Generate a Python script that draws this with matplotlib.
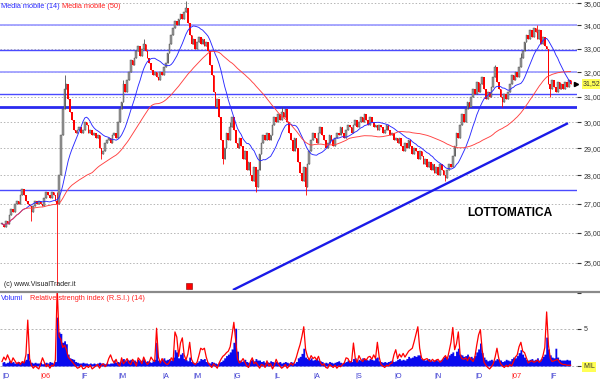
import numpy as np
import pandas as pd
import matplotlib
matplotlib.use("Agg")
import matplotlib.pyplot as plt
from matplotlib.ticker import NullLocator
from matplotlib.lines import Line2D
from matplotlib.transforms import blended_transform_factory

plt.rcParams['font.family'] = ['Liberation Sans', 'DejaVu Sans']

# ---------------- data ----------------
close = [
    26.3, 26.2, 26.4, 26.3, 26.6, 26.8, 26.7, 27.0, 27.1, 27.0,
    27.3, 27.5, 27.3, 27.1, 27.0, 26.9, 26.7, 26.9, 27.1, 27.0,
    27.1, 27.0, 26.9, 27.2, 27.4, 27.3, 27.2, 27.4, 27.3, 27.1,
    27.0, 28.0, 29.5, 30.5, 31.3, 31.5, 30.9, 30.4, 30.1, 29.7,
    29.6, 29.7, 29.8, 29.6, 29.7, 30.0, 29.9, 29.6, 29.7, 29.5,
    29.6, 29.4, 29.5, 29.0, 28.8, 28.9, 29.2, 29.3, 29.4, 29.2,
    29.5, 29.6, 29.4, 30.0, 30.5, 30.8, 31.5, 31.2, 31.7, 32.0,
    32.5, 32.3, 32.6, 32.9, 33.1, 32.7, 33.0, 33.2, 32.9, 32.6,
    32.4, 32.1, 31.9, 32.0, 31.8, 31.7, 32.0, 31.9, 32.2, 32.4,
    32.8, 33.2, 33.6, 33.9, 34.2, 34.0, 34.3, 34.5, 34.3, 34.6,
    34.8, 34.1, 33.6, 33.2, 33.4, 33.0, 33.3, 33.5, 33.2, 33.4,
    33.1, 33.3, 32.9, 32.3, 31.9, 31.2, 30.6, 30.9, 30.2, 29.3,
    28.6, 29.0, 29.6, 29.3, 29.8, 30.2, 29.7, 29.2, 29.0, 29.4,
    29.1, 28.6, 28.9, 28.2, 28.5, 28.0, 27.8, 28.3, 27.6, 28.2,
    28.8, 29.2, 29.5, 29.3, 29.6, 29.3, 29.5, 29.9, 30.2, 30.0,
    30.3, 30.1, 30.4, 30.2, 30.5, 30.0, 29.6, 29.3, 28.9, 29.4,
    29.0, 28.5, 28.1, 27.8, 28.3, 27.6, 28.4, 28.9, 29.3, 29.6,
    29.4, 29.2, 29.6, 29.8, 29.5, 29.3, 29.0, 29.2, 29.5, 29.3,
    29.1, 29.4, 29.6, 29.5, 29.8, 29.6, 29.4, 29.7, 29.9, 29.8,
    29.6, 29.9, 30.1, 29.8, 30.0, 30.2, 30.0, 30.3, 30.1, 29.9,
    30.2, 30.0, 29.8, 29.9, 29.7, 29.9, 29.8, 29.6, 29.7, 29.9,
    29.7, 29.5, 29.6, 29.3, 29.4, 29.2, 29.4, 29.1, 28.9, 29.2,
    29.0, 29.3, 29.1, 28.8, 29.0, 28.9, 28.6, 28.9, 28.7, 28.4,
    28.6, 28.3, 28.5, 28.2, 28.4, 28.1, 28.3, 28.0, 28.4, 28.2,
    28.0, 27.9, 28.2, 28.4, 28.3, 28.7, 29.1, 29.6, 29.4, 29.9,
    30.3, 30.0, 30.5, 30.8, 30.6, 31.0, 31.3, 31.1, 31.6, 31.2,
    31.5, 31.8, 31.3, 30.9, 31.2, 31.0, 31.4, 31.8, 32.2, 31.6,
    31.3, 31.0, 30.8, 31.1, 30.9, 31.2, 31.5, 31.9, 31.7, 32.0,
    31.8, 32.2, 32.6, 32.9, 33.3, 33.6, 33.4, 33.8, 33.5, 33.9,
    33.7, 33.4, 33.8, 33.2, 33.5, 33.1, 33.0, 31.5, 31.3, 31.7,
    31.4, 31.2, 31.6, 31.3, 31.5, 31.3, 31.6, 31.4, 31.7, 31.52,
]

# notable wicks (index: price)
wick_high = {30: 27.4, 34: 31.9, 66: 31.7, 77: 33.4, 100: 35.1, 124: 30.0,
             152: 30.6, 268: 32.3, 282: 32.8, 291: 34.0}
wick_low = {16: 26.4, 30: 24.3, 54: 28.6, 120: 28.4, 138: 27.4,
            165: 27.3, 241: 27.8, 272: 30.6, 298: 31.0}

volume = [
    0.5, 0.6, 0.4, 0.5, 0.7, 0.5, 0.6, 0.4, 0.5, 0.6,
    0.5, 0.6, 0.7, 0.9, 1.7, 0.8, 0.5, 0.4, 0.5, 0.4,
    0.4, 0.5, 0.3, 0.4, 0.5, 0.4, 0.6, 0.5, 0.4, 0.6,
    6.6, 4.6, 4.4, 3.2, 3.4, 3.0, 1.6, 1.1, 1.0, 0.9,
    0.6, 0.5, 0.4, 0.4, 0.5, 0.4, 0.4, 0.3, 0.4, 0.3,
    0.4, 0.3, 0.4, 0.5, 0.4, 0.4, 0.3, 0.4, 0.3, 0.4,
    0.4, 0.8, 0.5, 0.6, 0.5, 0.8, 1.0, 0.7, 0.9, 0.8,
    0.9, 0.7, 0.8, 0.6, 0.9, 0.7, 0.8, 1.0, 0.6, 0.7,
    0.6, 0.5, 0.7, 0.9, 3.2, 0.8, 0.7, 0.9, 1.1, 0.8,
    0.9, 1.0, 0.8, 1.2, 2.2, 1.9, 1.1, 1.6, 1.8, 1.0,
    0.9, 0.7, 1.2, 0.6, 0.5, 0.4, 0.5, 0.7, 1.0, 0.9,
    1.0, 0.6, 0.5, 0.4, 0.6, 0.5, 0.4, 0.3, 0.5, 0.6,
    0.8, 1.1, 1.4, 1.6, 1.9, 2.3, 3.2, 5.1, 2.0, 0.8,
    0.6, 0.7, 0.9, 0.6, 0.5, 0.8, 0.9, 0.7, 1.0, 0.8,
    0.8, 0.6, 0.7, 0.5, 0.6, 0.5, 0.7, 0.6, 0.5, 0.6,
    0.5, 0.6, 0.4, 0.5, 0.6, 0.5, 0.4, 0.6, 0.5, 0.4,
    0.6, 1.1, 1.3, 1.7, 2.4, 1.2, 1.0, 0.9, 1.1, 0.8,
    0.9, 1.0, 0.8, 0.7, 0.6, 0.4, 0.5, 0.4, 0.6, 0.5,
    0.4, 0.5, 0.6, 0.7, 0.5, 0.4, 0.5, 0.6, 0.8, 0.7,
    0.6, 1.0, 1.1, 0.7, 0.9, 0.8, 1.1, 1.0, 0.9, 0.8,
    1.0, 0.9, 0.8, 1.1, 1.2, 0.7, 0.6, 0.5, 0.6, 0.5,
    0.6, 0.7, 0.8, 0.6, 0.7, 0.9, 1.0, 0.8, 0.9, 0.8,
    1.0, 1.3, 1.1, 1.2, 1.4, 1.3, 1.5, 1.5, 1.0, 0.9,
    0.8, 0.9, 1.0, 0.8, 0.7, 0.8, 0.9, 0.7, 0.8, 0.9,
    1.2, 1.3, 1.1, 1.5, 1.7, 1.9, 1.4, 2.0, 2.4, 1.6,
    1.5, 1.3, 1.4, 1.6, 1.2, 1.3, 1.1, 1.4, 1.9, 2.3,
    3.1, 1.8, 1.2, 0.9, 0.7, 0.8, 0.9, 0.7, 0.8, 1.0,
    0.9, 0.8, 0.6, 0.7, 0.9, 0.8, 0.7, 1.0, 1.2, 1.1,
    1.4, 1.8, 2.2, 1.6, 1.2, 0.9, 0.8, 0.9, 1.0, 0.8,
    0.9, 1.1, 0.8, 1.0, 1.3, 1.6, 3.9, 2.3, 1.5, 1.2,
    1.1, 2.4, 1.2, 0.9, 0.8, 0.8, 0.8, 0.9, 0.8, 0.8,
]

rsi_line = [
    0.6, 1.2, 0.8, 1.5, 0.9, 0.4, 1.1, 0.7, 0.3, 0.5,
    0.2, 0.6, 0.4, 1.5, 6.2, 1.0, 0.1, -0.3, 0.0, -0.2,
    -0.4, 0.3, 1.1, 0.5, -0.1, 0.2, -0.3, 0.1, 0.0, 0.8,
    10.5, 4.0, 3.6, 2.5, 2.8, 2.2, 1.2, 0.9, 0.6, 0.3,
    0.0, -0.3, -0.2, 0.1, -0.4, -0.3, 0.0, -0.2, 0.1, -0.4,
    -0.2, 0.0, 0.2, -0.3, 0.1, 0.3, -0.1, 0.2, 1.0, 1.5,
    0.8, 0.4, 0.9, 0.2, 0.0, 1.1, 0.3, 0.6, 1.0, 0.4,
    0.2, 0.9, 0.5, 0.0, 1.1, 0.8, 0.3, 1.2, 0.6, 0.2,
    0.5, 1.2, 0.8, 0.6, 5.1, 1.2, 0.4, 1.0, 0.6, 0.3,
    0.2, 0.5, 1.1, 0.7, 4.6, 3.9, 1.3, 3.1, 3.8, 1.5,
    0.8, 1.6, 3.2, 0.9, 0.4, 0.2, 0.5, 1.4, 2.4, 2.2,
    2.4, 1.2, 0.4, 0.1, -0.2, 0.3, 0.0, -0.3, 0.4, 0.9,
    1.3, 1.5, 1.8, 2.0, 2.6, 4.2, 5.9, 3.5, 1.0, 0.4,
    0.6, 1.0, 0.5, 0.0, -0.2, 0.6, 1.1, 0.3, 0.5, 0.1,
    -0.3, 0.2, 0.1, -0.2, 0.7, 0.0, 0.3, -0.4, 0.1, 0.9,
    0.3, 0.0, -0.3, -0.1, 0.2, -0.3, 0.0, 0.4, 0.1, 0.5,
    1.2, 2.1, 2.9, 4.0, 5.3, 2.2, 1.3, 0.8, 1.4, 1.0,
    1.2, 0.8, 1.3, 0.5, 0.1, 0.3, -0.2, -0.3, 0.2, 0.0,
    -0.2, 0.1, -0.3, 0.0, -0.1, 0.2, 0.4, 1.1, 1.0, 0.5,
    0.6, 3.1, 1.0, 0.5, 1.4, 0.9, 0.6, 1.0, 0.8, 1.2,
    1.3, 0.9, 1.5, 1.0, 3.2, 1.2, 0.2, 0.0, -0.2, 0.1,
    0.0, 0.3, 0.4, 1.5, 2.2, 1.0, 1.6, 1.2, 1.7, 1.2,
    1.6, 2.0, 2.2, 2.4, 3.3, 4.3, 5.3, 2.4, 1.1, 0.8,
    0.9, 1.0, 0.7, 0.6, 0.9, 0.6, 0.8, 0.9, 0.5, 0.7,
    1.1, 1.4, 0.9, 2.0, 3.2, 5.2, 2.2, 3.0, 4.6, 1.5,
    1.0, 0.9, 1.1, 0.7, 1.2, 0.9, 0.6, 1.2, 2.8, 4.2,
    4.9, 2.1, 0.5, 0.1, -0.2, -0.4, -0.1, 0.3, 1.2, 2.4,
    1.0, 0.3, 0.0, -0.2, 0.1, -0.1, 0.2, 0.0, 0.6, 1.2,
    1.5, 2.6, 3.2, 2.0, 1.8, 1.1, 0.4, 0.6, 0.7, 0.5,
    0.6, 0.8, 0.5, 0.7, 1.4, 2.5, 7.3, 2.8, 1.0, 0.6,
    0.7, 0.8, 0.9, 0.5, 0.3, 0.2, 0.2, 0.1, 0.1, 0.1,
]

price_ticks = [25, 26, 27, 28, 29, 30, 31, 32, 33, 34, 35]
support_levels = [34.0, 32.95, 32.0, 31.1, 30.59, 27.47]
trend_x = [125.5, 307.6]
trend_y = [24.14, 29.96]
month_pos = [0, 21, 43, 63, 87, 104, 126, 148, 169, 192, 213, 235, 257, 277, 298]
month_lbl = ['D', '06', 'F', 'M', 'A', 'M', 'G', 'L', 'A', 'S', 'O', 'N', 'D', '07', 'F']
last_price = 31.52

# ---------------- figure ----------------
W, H = 600, 379
fig = plt.figure(figsize=(W / 100, H / 100), dpi=100)
fig.patch.set_facecolor('white')

def fx(px):
    return px / W

def fy(py):
    return 1 - py / H

RIGHT = 577
ax = fig.add_axes([0, fy(290), RIGHT / W, 290 / H])
ax2 = fig.add_axes([0, fy(371), RIGHT / W, 78 / H])

c = np.array(close)
n = len(c)
idx = np.arange(n)
o = np.r_[c[0], c[:-1]]
hi = np.maximum(o, c)
lo = np.minimum(o, c)
for k, v in wick_high.items():
    hi[k] = max(hi[k], v)
for k, v in wick_low.items():
    lo[k] = min(lo[k], v)
up = c >= o
dn = ~up
body_lo = np.minimum(o, c)
body_h = np.maximum(np.abs(c - o), 0.04)

xmin, xmax = -1.09, 312.5
ax.set_yscale('log')
ax.set_xlim(xmin, xmax)
ax.set_ylim(24.14, 35.14)

# grid
for p in price_ticks:
    ax.axhline(p, color='#b5b5b5', lw=0.7, ls=(0, (1.5, 2.0)), zorder=0)

# support / resistance lines
lvl_colors = ['#a0a0ff', '#4a4aff', '#a0a0ff', '#4a4aff', '#2a2af0', '#4a4aff']
lvl_widths = [1.3, 1.0, 1.3, 1.0, 2.0, 1.0]
for lv, col, lw in zip(support_levels, lvl_colors, lvl_widths):
    ax.axhline(lv, color=col, lw=lw, zorder=1)

# candles
ax.vlines(idx[up], lo[up], hi[up], color='#505050', lw=0.6, zorder=2)
ax.vlines(idx[dn], lo[dn], hi[dn], color='#ff0000', lw=0.6, zorder=2)
ax.bar(idx[up], body_h[up], bottom=body_lo[up], width=0.9, color='#999999',
       edgecolor='#4a4a4a', linewidth=0.3, zorder=3)
ax.bar(idx[dn], body_h[dn], bottom=body_lo[dn], width=0.9, color='#ff0000',
       linewidth=0, zorder=3)

# moving averages
s = pd.Series(c)
ma14 = s.rolling(14, min_periods=1).mean()
ma50 = s.rolling(50, min_periods=1).mean()
ax.plot(idx, ma14, color='#2a2aff', lw=0.65, zorder=4)
ax.plot(idx, ma50, color='#ff4040', lw=0.65, zorder=4)

# trend line
ax.plot(trend_x, trend_y, color='#1a1ae8', lw=1.7, zorder=5, solid_capstyle='butt')

# red square marker
ax.plot([101.6], [24.27], marker='s', ms=4.3, color='#ff0000', mec='#800000', mew=0.4, zorder=6)

# last price arrow
ax.plot([312.0], [last_price], marker='>', ms=3.0, color='black', clip_on=False, zorder=7)

for sp in ax.spines.values():
    sp.set_visible(False)
ax.set_xticks([])
ax.yaxis.tick_right()
ax.set_yticks(price_ticks)
ax.set_yticklabels([f"{p},00" for p in price_ticks])
ax.yaxis.set_minor_locator(NullLocator())
ax.tick_params(axis='y', length=3, width=0.8, color='#333333', labelsize=5.0,
               pad=1.5, labelcolor='#333333')

# ---------------- lower panel ----------------
ax2.set_xlim(xmin, xmax)
ax2.set_ylim(-0.68, 9.86)
for lv in [0, 5]:
    ax2.axhline(lv, color='#b5b5b5', lw=0.7, ls=(0, (2, 2)), zorder=0)
ax2.fill_between(idx, 0, volume, step='mid', color='#0a0aee', lw=0, zorder=1)
ax2.plot(idx, rsi_line, color='#ff0000', lw=0.9, zorder=2)
for sp in ax2.spines.values():
    sp.set_visible(False)
ax2.set_xticks([])
ax2.yaxis.tick_right()
ax2.set_yticks([0, 5, 9.86])
ax2.set_yticklabels(['', '5', ''])
ax2.yaxis.set_minor_locator(NullLocator())
ax2.tick_params(axis='y', length=3, width=0.8, color='#333333', labelsize=5.0,
                pad=1.5, labelcolor='#333333')

# month labels
tr = blended_transform_factory(ax2.transData, ax2.transAxes)
for pos, lb in zip(month_pos, month_lbl):
    col = '#ff2020' if lb in ('06', '07') else '#3a3ad0'
    ax2.text(pos, -0.07, '|' + lb, transform=tr, fontsize=5.3, color=col,
             ha='left', va='center')

# separator line
fig.add_artist(Line2D([0, 1], [fy(292), fy(292)], color='#8a8a8a', lw=1.6))

# ---------------- texts ----------------
fig.text(fx(1), fy(6), 'Media mobile (14)', fontsize=5.3, color='#2a2aff', va='center', ha='left')
fig.text(fx(62), fy(6), 'Media mobile (50)', fontsize=5.3, color='#ff2020', va='center', ha='left')
fig.text(fx(4), fy(285), '(c) www.VisualTrader.it', fontsize=5.0, color='#222222', va='center', ha='left')
fig.text(fx(467), fy(213), 'LOTTOMATICA', fontsize=8.6, fontweight='bold', color='black',
         va='center', ha='left')
fig.text(fx(1), fy(298), 'Volumi', fontsize=5.3, color='#2a2aff', va='center', ha='left')
fig.text(fx(30), fy(298), 'Relative strength index (R.S.I.) (14)', fontsize=5.3,
         color='#ff2020', va='center', ha='left')
fig.text(fx(583), fy(84), '31,52', fontsize=5.0, color='#333333', va='center', ha='left',
         bbox=dict(boxstyle='square,pad=0.15', fc='#ffff55', ec='none'))
fig.text(fx(583), fy(367), 'MIL', fontsize=5.0, color='#333333', va='center', ha='left',
         bbox=dict(boxstyle='square,pad=0.15', fc='#ffff55', ec='none'))

fig.savefig('out.png', dpi=100, facecolor='white')
